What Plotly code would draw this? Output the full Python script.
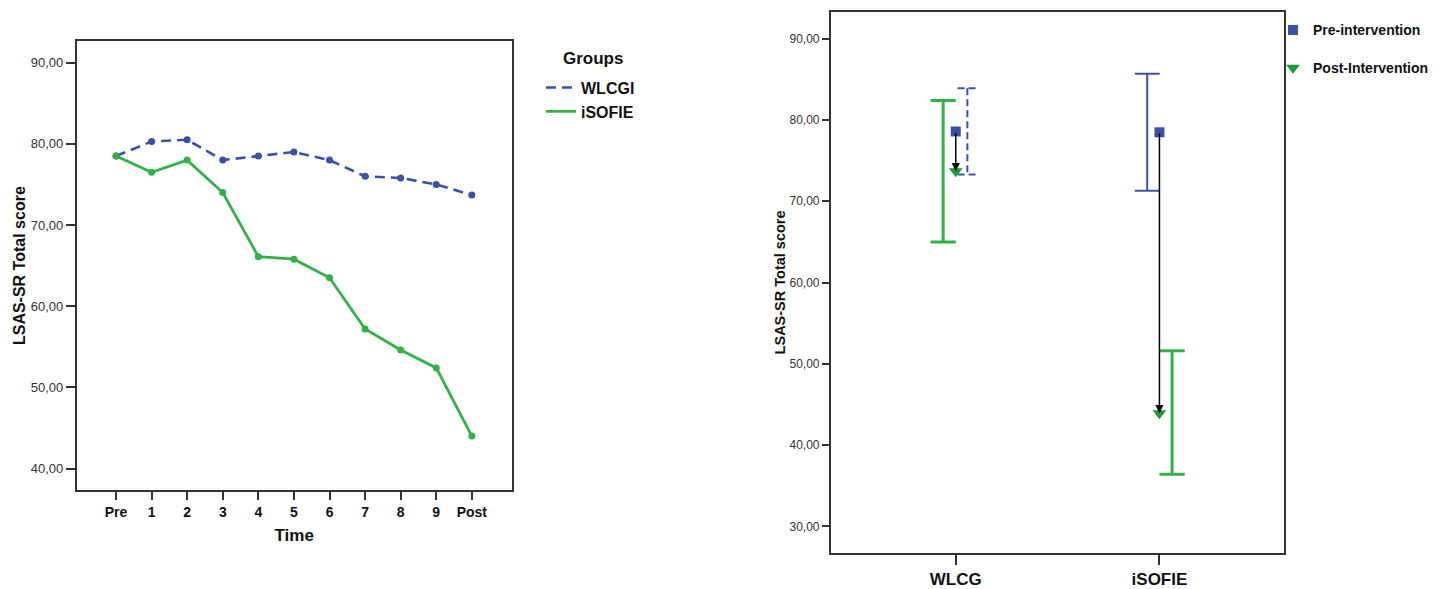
import plotly.graph_objects as go

# ---------------- data ----------------
time_labels = ["Pre", "1", "2", "3", "4", "5", "6", "7", "8", "9", "Post"]
wlcgi_scores = [78.5, 80.3, 80.5, 78.0, 78.5, 79.0, 78.0, 76.0, 75.8, 75.0, 73.7]
isofie_scores = [78.5, 76.5, 78.0, 74.0, 66.1, 65.8, 63.5, 57.2, 54.6, 52.4, 44.0]

groups = ["WLCG", "iSOFIE"]
pre_mean = [78.6, 78.5]
pre_ci_low = [73.3, 71.3]
pre_ci_high = [83.9, 85.7]
post_mean = [73.7, 43.9]
post_ci_low = [65.0, 36.4]
post_ci_high = [82.4, 51.6]

left_yticks = [40, 50, 60, 70, 80, 90]
right_yticks = [30, 40, 50, 60, 70, 80, 90]

# ---------------- styles ----------------
BLUE = "#3b50a6"
GREEN = "#33b04a"
DKGREEN = "#1f9a3e"
FONT = "Liberation Sans, Arial, sans-serif"
FRAME = "#333333"

post_offset = [-0.062, 0.062]
pre_offset = [0.057, -0.060]
pre_dash = ["7px,4px", "solid"]
cap_green = 0.062
cap_blue = [0.048, 0.061]

x_idx = list(range(len(time_labels)))
g_idx = list(range(len(groups)))

fig = go.Figure()

# ---- left chart ----
fig.add_trace(go.Scatter(
    x=x_idx, y=wlcgi_scores, mode="lines", name="WLCGI",
    line=dict(color=BLUE, width=2.6, dash="10px,6px"),
    xaxis="x", yaxis="y", legend="legend"))
fig.add_trace(go.Scatter(
    x=x_idx, y=isofie_scores, mode="lines", name="iSOFIE",
    line=dict(color=GREEN, width=2.8),
    xaxis="x", yaxis="y", legend="legend"))
fig.add_trace(go.Scatter(
    x=x_idx, y=wlcgi_scores, mode="markers", showlegend=False,
    marker=dict(color=BLUE, size=7), xaxis="x", yaxis="y"))
fig.add_trace(go.Scatter(
    x=x_idx, y=isofie_scores, mode="markers", showlegend=False,
    marker=dict(color=GREEN, size=7), xaxis="x", yaxis="y"))


def errbar(xc, lo, hi, half):
    xs = [xc - half, xc + half, None, xc, xc, None, xc - half, xc + half]
    ys = [hi, hi, None, hi, lo, None, lo, lo]
    return xs, ys


# ---- right chart: CI bars ----
for i in g_idx:
    xs, ys = errbar(g_idx[i] + post_offset[i], post_ci_low[i], post_ci_high[i], cap_green)
    fig.add_trace(go.Scatter(x=xs, y=ys, mode="lines", line=dict(color=GREEN, width=3),
                             showlegend=False, hoverinfo="skip", xaxis="x2", yaxis="y2"))
    xs, ys = errbar(g_idx[i] + pre_offset[i], pre_ci_low[i], pre_ci_high[i], cap_blue[i])
    fig.add_trace(go.Scatter(x=xs, y=ys, mode="lines",
                             line=dict(color=BLUE, width=2, dash=pre_dash[i]),
                             showlegend=False, hoverinfo="skip", xaxis="x2", yaxis="y2"))

fig.add_trace(go.Scatter(
    x=g_idx, y=pre_mean, mode="markers", name="Pre-intervention",
    marker=dict(symbol="square", color=BLUE, size=10),
    xaxis="x2", yaxis="y2", legend="legend2", legendgroup="pre"))
fig.add_trace(go.Scatter(
    x=g_idx, y=post_mean, mode="markers", name="Post-Intervention",
    marker=dict(symbol="triangle-down", color=DKGREEN, size=12),
    xaxis="x2", yaxis="y2", legend="legend2", legendgroup="post"))

for i in g_idx:
    fig.add_annotation(x=g_idx[i], y=post_mean[i], ax=g_idx[i], ay=pre_mean[i],
                       xref="x2", yref="y2", axref="x2", ayref="y2",
                       showarrow=True, arrowhead=2, arrowsize=1.1, arrowwidth=1.5,
                       arrowcolor="black", text="", standoff=0, startstandoff=0)

W, H = 1450, 589

# legend title of the left chart
fig.add_annotation(text="<b>Groups</b>", x=592.5 / W, y=1 - 58.3 / H, xref="paper", yref="paper",
                   showarrow=False, xanchor="center", yanchor="middle",
                   font=dict(size=17, color="#111", family=FONT))

fig.update_layout(
    width=W, height=H,
    margin=dict(l=0, r=0, t=0, b=0),
    paper_bgcolor="white", plot_bgcolor="white",
    font=dict(family=FONT, color="#222222"),
    xaxis=dict(domain=[76.7 / W, 511.7 / W], range=[-1.105, 11.12],
               tickvals=x_idx, ticktext=time_labels, ticks="outside", ticklen=8,
               tickcolor=FRAME, tickwidth=1.5,
               tickfont=dict(size=14, family=FONT, color="#111", weight="bold"),
               showgrid=False, zeroline=False, showline=True, mirror=True,
               linecolor=FRAME, linewidth=1.5,
               title=dict(text="<b>Time</b>", font=dict(size=17, color="#111"), standoff=10)),
    yaxis=dict(domain=[1 - 493 / H, 1 - 41 / H], range=[37.3, 92.7],
               tickvals=left_yticks, ticktext=[f"{v},00" for v in left_yticks],
               ticks="outside", ticklen=9, tickcolor=FRAME, tickwidth=1.5,
               tickfont=dict(size=13, color="#333"),
               showgrid=False, zeroline=False, showline=True, mirror=True,
               linecolor=FRAME, linewidth=1.5,
               title=dict(text="<b>LSAS-SR Total score</b>", font=dict(size=16, color="#111"), standoff=1)),
    xaxis2=dict(domain=[830.7 / W, 1284.3 / W], range=[-0.614, 1.613],
                tickvals=g_idx, ticktext=groups, ticks="outside", ticklen=10,
                tickcolor=FRAME, tickwidth=1.5,
                tickfont=dict(size=17, family=FONT, color="#111", weight="bold"),
                showgrid=False, zeroline=False, showline=True, mirror=True,
                linecolor=FRAME, linewidth=1.5, anchor="y2"),
    yaxis2=dict(domain=[1 - 555.7 / H, 1 - 12 / H], range=[26.73, 93.3],
                tickvals=right_yticks, ticktext=[f"{v},00" for v in right_yticks],
                ticks="outside", ticklen=7, tickcolor=FRAME, tickwidth=1.5,
                tickfont=dict(size=12, color="#333"),
                showgrid=False, zeroline=False, showline=True, mirror=True,
                linecolor=FRAME, linewidth=1.5, anchor="x2",
                title=dict(text="<b>LSAS-SR Total score</b>", font=dict(size=14.5, color="#111"), standoff=0)),
    legend=dict(x=541 / W, y=1 - 71 / H, xanchor="left", yanchor="top",
                bgcolor="rgba(0,0,0,0)", font=dict(size=16, color="#111", weight="bold")),
    legend2=dict(x=1273 / W, y=1 - 14.5 / H, xanchor="left", yanchor="top",
                 bgcolor="rgba(0,0,0,0)", font=dict(size=14, color="#111", weight="bold"),
                 tracegroupgap=16.5),
)

fig.write_html("out.html", config={"displayModeBar": False},
               post_script="document.body.style.margin='0';document.body.style.overflow='hidden';")
